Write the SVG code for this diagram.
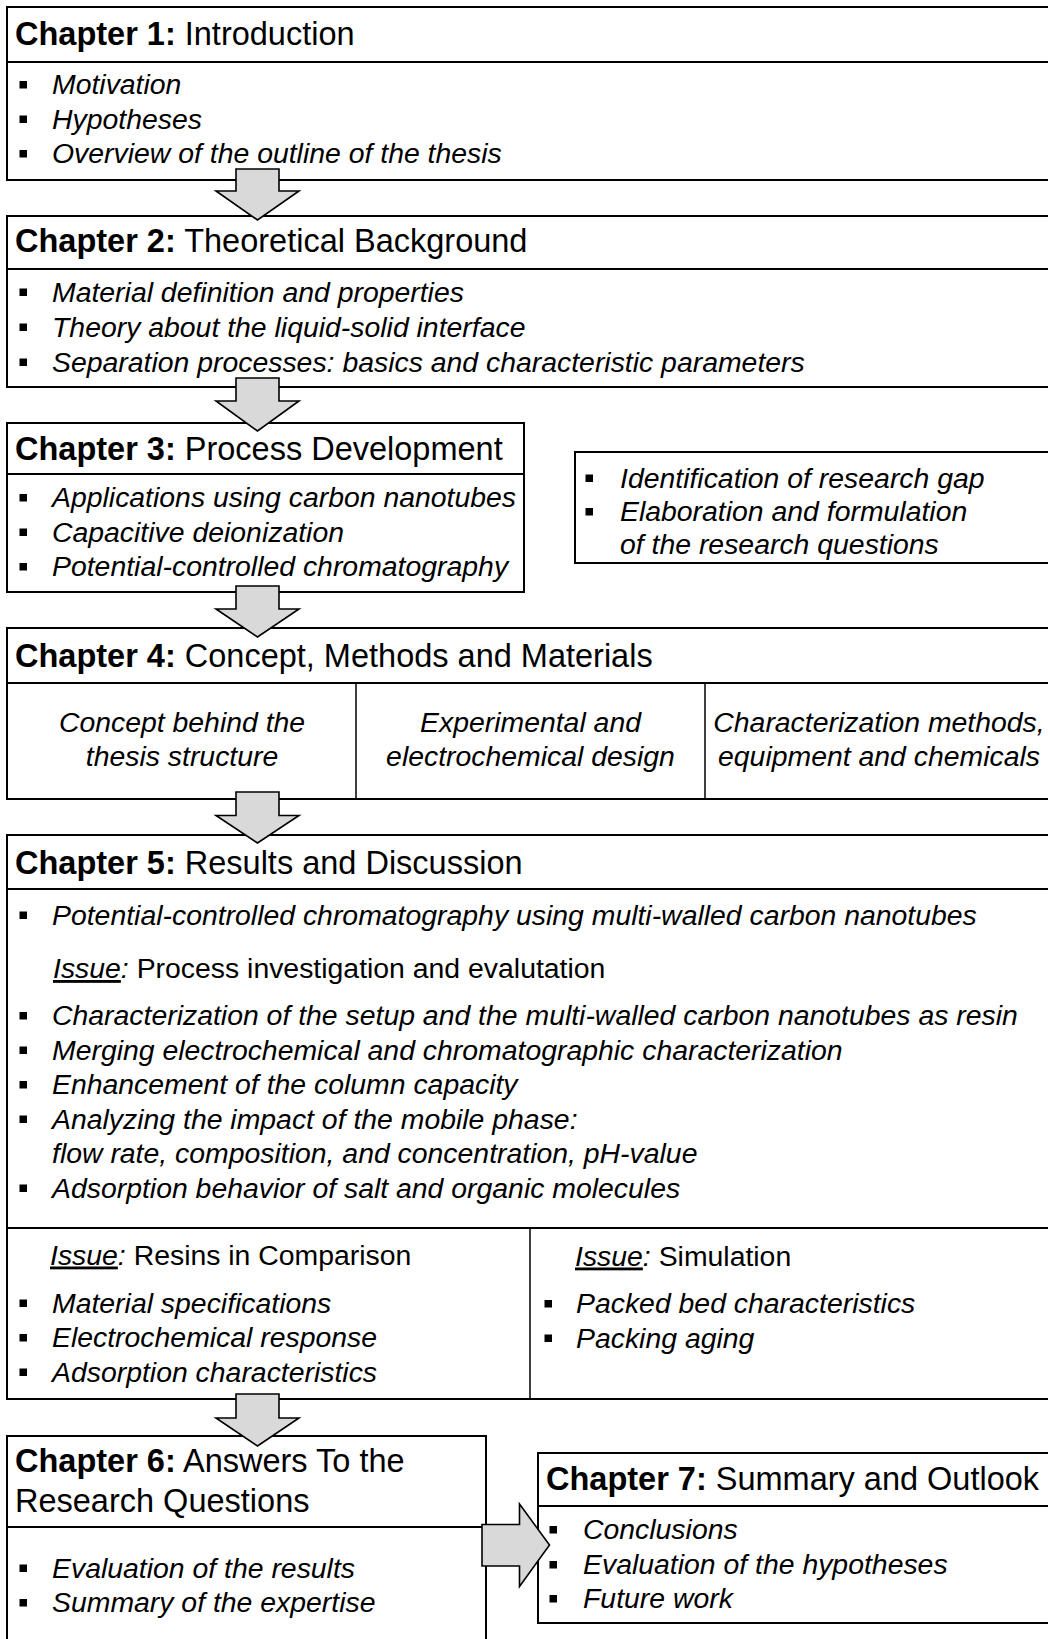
<svg xmlns="http://www.w3.org/2000/svg" width="1048" height="1639" viewBox="0 0 1048 1639">
<style>
.box{fill:#fff;stroke:#000;stroke-width:2}
.ln{stroke:#000;stroke-width:2;fill:none}
.dv{stroke:#000;stroke-width:1.5;fill:none}
.hd{font-family:"Liberation Sans",Arial,sans-serif;font-size:32.5px;fill:#000}
.b{font-weight:bold}
.it{font-family:"Liberation Sans",Arial,sans-serif;font-size:28.4px;font-style:italic;fill:#000}
.rg{font-family:"Liberation Sans",Arial,sans-serif;font-size:28.4px;fill:#000}
.u{text-decoration:underline}
.ctr{text-anchor:middle}
.arr{fill:#d9d9d9;stroke:#000;stroke-width:1.6;stroke-linejoin:miter}
</style>
<defs>
<rect id="bl" width="7.5" height="7.5" fill="#000"/>
</defs>
<rect width="1048" height="1639" fill="#fff"/>

<g id="ch1">
<rect class="box" x="7" y="7" width="1060" height="173"/>
<line class="ln" x1="7" y1="62" x2="1067" y2="62"/>
<text class="hd" x="15" y="45"><tspan class="b">Chapter 1:</tspan> Introduction</text>
<use href="#bl" x="19.5" y="81"/><text class="it" x="52" y="94">Motivation</text>
<use href="#bl" x="19.5" y="115.5"/><text class="it" x="52" y="128.5">Hypotheses</text>
<use href="#bl" x="19.5" y="150"/><text class="it" x="52" y="163">Overview of the outline of the thesis</text>
</g>

<g id="ch2">
<rect class="box" x="7" y="216" width="1060" height="171"/>
<line class="ln" x1="7" y1="269" x2="1067" y2="269"/>
<text class="hd" x="15" y="252"><tspan class="b">Chapter 2:</tspan> Theoretical Background</text>
<use href="#bl" x="19.5" y="288.5"/><text class="it" x="52" y="301.5">Material definition and properties</text>
<use href="#bl" x="19.5" y="323.5"/><text class="it" x="52" y="336.5">Theory about the liquid-solid interface</text>
<use href="#bl" x="19.5" y="358.5"/><text class="it" x="52" y="371.5">Separation processes: basics and characteristic parameters</text>
</g>

<g id="ch3">
<rect class="box" x="7" y="423" width="517" height="169"/>
<line class="ln" x1="7" y1="474" x2="524" y2="474"/>
<text class="hd" x="15" y="460"><tspan class="b">Chapter 3:</tspan> Process Development</text>
<use href="#bl" x="19.5" y="494"/><text class="it" x="52" y="507">Applications using carbon nanotubes</text>
<use href="#bl" x="19.5" y="528.5"/><text class="it" x="52" y="541.5">Capacitive deionization</text>
<use href="#bl" x="19.5" y="563"/><text class="it" x="52" y="576">Potential-controlled chromatography</text>
</g>

<g id="research-gap">
<rect class="box" x="575" y="452" width="492" height="111"/>
<use href="#bl" x="585.5" y="474.5"/><text class="it" x="620" y="487.5">Identification of research gap</text>
<use href="#bl" x="585.5" y="508"/><text class="it" x="620" y="521">Elaboration and formulation</text>
<text class="it" x="620" y="554">of the research questions</text>
</g>

<g id="ch4">
<rect class="box" x="7" y="628" width="1060" height="171"/>
<line class="ln" x1="7" y1="683" x2="1067" y2="683"/>
<line class="dv" x1="356" y1="683" x2="356" y2="799"/>
<line class="dv" x1="705" y1="683" x2="705" y2="799"/>
<text class="hd" x="15" y="667"><tspan class="b">Chapter 4:</tspan> Concept, Methods and Materials</text>
<text class="it ctr" x="182" y="732">Concept behind the</text>
<text class="it ctr" x="182" y="765.5">thesis structure</text>
<text class="it ctr" x="530.5" y="732">Experimental and</text>
<text class="it ctr" x="530.5" y="765.5">electrochemical design</text>
<text class="it ctr" x="879" y="732">Characterization methods,</text>
<text class="it ctr" x="879" y="765.5">equipment and chemicals</text>
</g>

<g id="ch5">
<rect class="box" x="7" y="835" width="1060" height="564"/>
<line class="ln" x1="7" y1="889" x2="1067" y2="889"/>
<line class="ln" x1="7" y1="1228" x2="1067" y2="1228"/>
<line class="dv" x1="530" y1="1228" x2="530" y2="1399"/>
<text class="hd" x="15" y="874"><tspan class="b">Chapter 5:</tspan> Results and Discussion</text>
<use href="#bl" x="19.5" y="911.5"/><text class="it" x="52" y="924.5">Potential-controlled chromatography using multi-walled carbon nanotubes</text>
<text class="rg" x="53" y="978"><tspan class="u" font-style="italic">Issue</tspan><tspan font-style="italic">:</tspan> Process investigation and evalutation</text>
<use href="#bl" x="19.5" y="1012"/><text class="it" x="52" y="1025">Characterization of the setup and the multi-walled carbon nanotubes as resin</text>
<use href="#bl" x="19.5" y="1046.5"/><text class="it" x="52" y="1059.5">Merging electrochemical and chromatographic characterization</text>
<use href="#bl" x="19.5" y="1081"/><text class="it" x="52" y="1094">Enhancement of the column capacity</text>
<use href="#bl" x="19.5" y="1115.5"/><text class="it" x="52" y="1128.5">Analyzing the impact of the mobile phase:</text>
<text class="it" x="52" y="1163">flow rate, composition, and concentration, pH-value</text>
<use href="#bl" x="19.5" y="1184.5"/><text class="it" x="52" y="1197.5">Adsorption behavior of salt and organic molecules</text>
<text class="rg" x="50" y="1264.5"><tspan class="u" font-style="italic">Issue</tspan><tspan font-style="italic">:</tspan> Resins in Comparison</text>
<use href="#bl" x="19.5" y="1299.5"/><text class="it" x="52" y="1312.5">Material specifications</text>
<use href="#bl" x="19.5" y="1334"/><text class="it" x="52" y="1347">Electrochemical response</text>
<use href="#bl" x="19.5" y="1368.5"/><text class="it" x="52" y="1381.5">Adsorption characteristics</text>
<text class="rg" x="575" y="1265.5"><tspan class="u" font-style="italic">Issue</tspan><tspan font-style="italic">:</tspan> Simulation</text>
<use href="#bl" x="544.5" y="1300"/><text class="it" x="576" y="1313">Packed bed characteristics</text>
<use href="#bl" x="544.5" y="1334.5"/><text class="it" x="576" y="1347.5">Packing aging</text>
</g>

<g id="ch6">
<rect class="box" x="7" y="1436" width="479" height="230"/>
<line class="ln" x1="7" y1="1527" x2="486" y2="1527"/>
<text class="hd" x="15" y="1472"><tspan class="b">Chapter 6:</tspan> Answers To the</text>
<text class="hd" x="15" y="1512">Research Questions</text>
<use href="#bl" x="19.5" y="1564.5"/><text class="it" x="52" y="1577.5">Evaluation of the results</text>
<use href="#bl" x="19.5" y="1599"/><text class="it" x="52" y="1612">Summary of the expertise</text>
</g>

<g id="ch7">
<rect class="box" x="538" y="1453" width="529" height="170"/>
<line class="ln" x1="538" y1="1506" x2="1067" y2="1506"/>
<text class="hd" x="546" y="1490"><tspan class="b">Chapter 7:</tspan> Summary and Outlook</text>
<use href="#bl" x="549.5" y="1526"/><text class="it" x="583" y="1539">Conclusions</text>
<use href="#bl" x="549.5" y="1561"/><text class="it" x="583" y="1574">Evaluation of the hypotheses</text>
<use href="#bl" x="549.5" y="1595"/><text class="it" x="583" y="1608">Future work</text>
</g>

<g id="connectors">
<polygon class="arr" points="236,169 279,169 279,191 299,191 257.5,220 216,191 236,191"/>
<polygon class="arr" points="236,378 279,378 279,401 299,401 257.5,431 216,401 236,401"/>
<polygon class="arr" points="236,586 279,586 279,609 299,609 257.5,637 216,609 236,609"/>
<polygon class="arr" points="236,792 279,792 279,815.5 299,815.5 257.5,843 216,815.5 236,815.5"/>
<polygon class="arr" points="236,1394 279,1394 279,1418 299,1418 257.5,1446 216,1418 236,1418"/>
<polygon class="arr" points="482,1524.5 519.5,1524.5 519.5,1504 549.5,1545 519.5,1586.5 519.5,1566 482,1566"/>
</g>
</svg>
